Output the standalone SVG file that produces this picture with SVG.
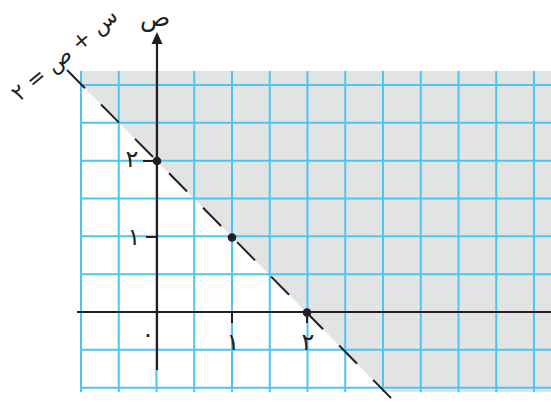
<svg xmlns="http://www.w3.org/2000/svg" width="551" height="402" viewBox="0 0 551 402">
<style>
.grid line{stroke:#4cc6f1;stroke-width:2}
.axis{stroke:#231f20;stroke-width:2.2;fill:none}
.tick{stroke:#231f20;stroke-width:2}
.dot{fill:#231f20}
.lbl{font-family:"DejaVu Sans",sans-serif;fill:#231f20;text-anchor:middle}
</style>
<rect width="551" height="402" fill="#ffffff"/>
<g id="region">
<polygon points="81,71 551,71 551,392 385,392 81,84.2" fill="#e2e3e5"/>
</g>
<g id="grid" class="grid">
<line x1="81" y1="71" x2="81" y2="392"/>
<line x1="118.75" y1="71" x2="118.75" y2="392"/>
<line x1="156.5" y1="71" x2="156.5" y2="392"/>
<line x1="194.25" y1="71" x2="194.25" y2="392"/>
<line x1="232" y1="71" x2="232" y2="392"/>
<line x1="269.75" y1="71" x2="269.75" y2="392"/>
<line x1="307.5" y1="71" x2="307.5" y2="392"/>
<line x1="345.25" y1="71" x2="345.25" y2="392"/>
<line x1="383" y1="71" x2="383" y2="392"/>
<line x1="420.75" y1="71" x2="420.75" y2="392"/>
<line x1="458.5" y1="71" x2="458.5" y2="392"/>
<line x1="496.25" y1="71" x2="496.25" y2="392"/>
<line x1="534" y1="71" x2="534" y2="392"/>
<line x1="81" y1="85" x2="551" y2="85"/>
<line x1="81" y1="122.8" x2="551" y2="122.8"/>
<line x1="81" y1="160.7" x2="551" y2="160.7"/>
<line x1="81" y1="198.5" x2="551" y2="198.5"/>
<line x1="81" y1="236.3" x2="551" y2="236.3"/>
<line x1="81" y1="274.2" x2="551" y2="274.2"/>
<line x1="81" y1="312" x2="551" y2="312"/>
<line x1="81" y1="349.8" x2="551" y2="349.8"/>
<line x1="81" y1="387.7" x2="551" y2="387.7"/>
</g>
<g id="connectors">
<line id="x-axis" class="axis" x1="77" y1="312" x2="551" y2="312"/>
<line id="y-axis" class="axis" x1="157" y1="370" x2="157" y2="42"/>
<polygon points="157,32 151.5,44 162.5,44" fill="#231f20"/>
<line id="boundary" x1="67" y1="70" x2="392" y2="399" stroke="#231f20" stroke-width="2" stroke-dasharray="25.6 22.8"/>
<line class="tick" x1="143" y1="161" x2="157" y2="161"/>
<line class="tick" x1="146" y1="237" x2="157" y2="237"/>
<line class="tick" x1="232" y1="312" x2="232" y2="323"/>
<line class="tick" x1="307" y1="312" x2="307" y2="323"/>
</g>
<g id="p1"><circle class="dot" cx="157" cy="161" r="4.3"/></g>
<g id="p2"><circle class="dot" cx="232" cy="237.5" r="4.3"/></g>
<g id="p3"><circle class="dot" cx="307" cy="312.5" r="4.3"/></g>
<g id="labels">
<text class="lbl" x="155" y="26" font-size="25">ص</text>
<text class="lbl" x="132" y="167" font-size="24">٢</text>
<text class="lbl" x="134" y="245" font-size="24">١</text>
<text class="lbl" x="148" y="342" font-size="24">٠</text>
<text class="lbl" x="233" y="350" font-size="24">١</text>
<text class="lbl" x="308" y="350" font-size="24">٢</text>
<text class="lbl" font-size="22" transform="translate(64,54) rotate(-40)" x="0" y="8">س + ص = ٢</text>
</g>
</svg>
